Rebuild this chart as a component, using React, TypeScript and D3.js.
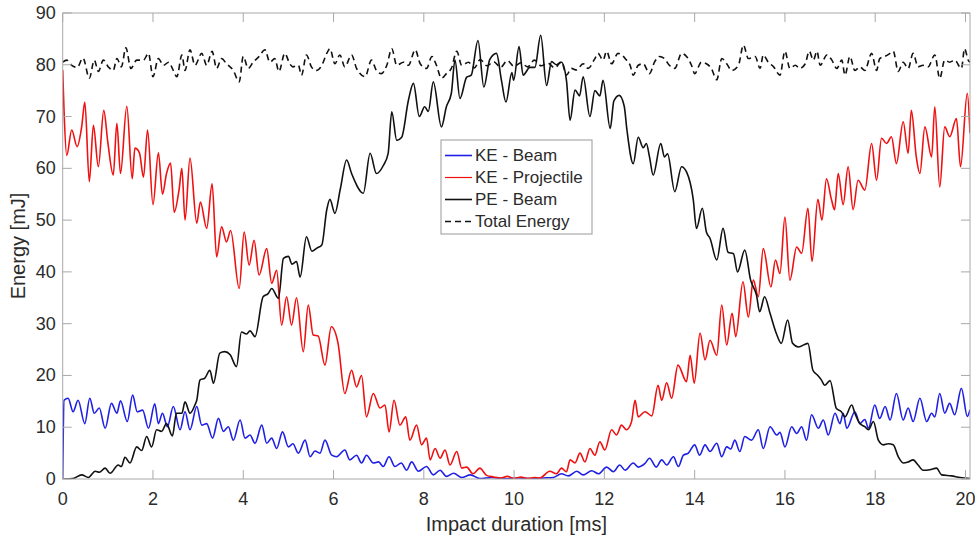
import React from "react";
import * as d3 from "d3";

const width = 975;
const height = 539;
const margin = { top: 13, right: 5, bottom: 60, left: 62.7 };

const xTicks = [0, 2, 4, 6, 8, 10, 12, 14, 16, 18, 20];
const yTicks = [0, 10, 20, 30, 40, 50, 60, 70, 80, 90];
const seriesNames = ["KE - Beam", "KE - Projectile", "PE - Beam", "Total Energy"];

const keBeam: [number, number][] = [
  [0, 0], [0.03, 15.2], [0.12, 15.6], [0.23, 13], [0.34, 15.2], [0.49, 10.7], [0.6, 15.6], [0.7, 12.7], [0.81, 13.7], [0.94, 9.8],
  [1.08, 14.6], [1.2, 12.7], [1.28, 15.1], [1.43, 11.1], [1.55, 16.2], [1.65, 13], [1.77, 13.3], [1.9, 9.8], [2.04, 14.5], [2.12, 10.7],
  [2.21, 12.7], [2.32, 10.1], [2.45, 14], [2.6, 9.5], [2.71, 13], [2.82, 9.5], [2.97, 14], [3.08, 10.4], [3.19, 10.7], [3.32, 7.9],
  [3.45, 11.7], [3.56, 9.2], [3.67, 10.1], [3.78, 7.5], [3.93, 11.4], [4.04, 7.9], [4.15, 8.5], [4.26, 6.9], [4.41, 10.4], [4.52, 6.9],
  [4.63, 7.9], [4.74, 5.9], [4.87, 9.1], [5.0, 6.2], [5.1, 6.8], [5.22, 5], [5.37, 7.5], [5.48, 4.3], [5.59, 5.4], [5.7, 5],
  [5.81, 7.5], [5.96, 4.6], [6.07, 4.3], [6.25, 5.6], [6.36, 3.7], [6.51, 4.6], [6.62, 3.1], [6.73, 4.6], [6.88, 3.1], [7.0, 3.3],
  [7.1, 2.4], [7.23, 4.3], [7.36, 2.4], [7.5, 3.1], [7.62, 1.7], [7.73, 3.3], [7.88, 1.5], [8.06, 2.4], [8.21, 0.8], [8.36, 1.7],
  [8.5, 0.5], [8.66, 1.1], [8.84, 0.3], [9.03, 0.8], [9.24, 0.1], [9.5, 0.3], [9.8, 0.05], [10.1, 0.2], [10.4, 0.05], [10.65, 0.2],
  [10.87, 0.3], [11.05, 1], [11.2, 0.6], [11.39, 1.5], [11.53, 0.8], [11.72, 1.6], [11.87, 1], [12.05, 2.3], [12.2, 1.4], [12.34, 2.7],
  [12.46, 1.7], [12.64, 3.1], [12.75, 2.3], [12.9, 3], [13.0, 4], [13.15, 2.3], [13.27, 3.7], [13.38, 2.7], [13.53, 4.3], [13.64, 2.4],
  [13.75, 4.6], [13.86, 5], [14.0, 6.6], [14.11, 4.6], [14.23, 6.6], [14.34, 5.3], [14.49, 6.9], [14.6, 4.3], [14.71, 6.2], [14.8, 5.8],
  [14.89, 7.5], [15.0, 5.3], [15.11, 8.2], [15.26, 7.5], [15.41, 9.5], [15.52, 5.9], [15.67, 10.1], [15.82, 8.5], [15.89, 9], [16.0, 6.2],
  [16.15, 10.1], [16.26, 8.8], [16.37, 10.1], [16.48, 7.5], [16.59, 12.4], [16.74, 9.8], [16.85, 11.4], [16.96, 8.5], [17.11, 12.7], [17.22, 10.7],
  [17.29, 12.7], [17.37, 9.8], [17.55, 13], [17.66, 10.7], [17.77, 11.5], [17.85, 9.8], [17.99, 14.3], [18.1, 11.7], [18.22, 14], [18.33, 11.4],
  [18.47, 16.5], [18.62, 11.4], [18.73, 13.7], [18.84, 11.1], [18.99, 15.6], [19.14, 11.1], [19.25, 12.7], [19.32, 12], [19.43, 16.5], [19.54, 12.7],
  [19.65, 14.6], [19.76, 12.4], [19.91, 17.5], [20.04, 12.1], [20.1, 13.4],
];

const keProjectile: [number, number][] = [
  [0, 79], [0.03, 71], [0.09, 62.5], [0.2, 67.4], [0.32, 64.2], [0.42, 68], [0.49, 72.8], [0.59, 57.4], [0.68, 68.3], [0.79, 60.3],
  [0.91, 71.2], [1.0, 65], [1.12, 58.7], [1.2, 68.7], [1.28, 59], [1.42, 72], [1.54, 58], [1.6, 63.9], [1.7, 63], [1.79, 58.3],
  [1.88, 67.4], [2.0, 53], [2.12, 63], [2.21, 55], [2.3, 59], [2.39, 61], [2.47, 51.5], [2.58, 56], [2.64, 60], [2.71, 50],
  [2.82, 62], [2.97, 49.4], [3.05, 53.5], [3.19, 48.4], [3.31, 57], [3.41, 42.9], [3.52, 48.7], [3.63, 45.8], [3.72, 48], [3.91, 36.8],
  [4.02, 47.7], [4.13, 41.3], [4.24, 46.1], [4.35, 39.4], [4.52, 44.5], [4.63, 37.8], [4.74, 40.3], [4.85, 29.7], [4.96, 35.2], [5.07, 29.7],
  [5.18, 35], [5.33, 24.6], [5.44, 33.6], [5.55, 27.8], [5.66, 27.6], [5.81, 22], [5.95, 29.4], [6.1, 26.2], [6.25, 16.5], [6.4, 21],
  [6.51, 17.8], [6.62, 20], [6.73, 12], [6.88, 16.5], [7.03, 13.7], [7.14, 14.3], [7.23, 9.1], [7.34, 15.2], [7.47, 10.4], [7.6, 12],
  [7.69, 7.5], [7.84, 10.4], [7.95, 6.6], [8.06, 7.9], [8.14, 3.7], [8.25, 5.9], [8.36, 4], [8.47, 5.6], [8.58, 2.7], [8.73, 5.3],
  [8.84, 2.1], [8.95, 2.3], [9.09, 1], [9.24, 2.1], [9.39, 0.7], [9.55, 0.4], [9.7, 0.2], [9.85, 0.5], [10.0, 0.1], [10.15, 0.4],
  [10.3, 0.1], [10.45, 0.3], [10.57, 0.2], [10.79, 1.5], [10.94, 1], [11.05, 2.1], [11.16, 1.4], [11.24, 3.7], [11.35, 3.1], [11.46, 5],
  [11.57, 3.3], [11.68, 5.9], [11.79, 4.6], [11.9, 7.2], [12.01, 5.6], [12.16, 9.5], [12.27, 8.5], [12.38, 10.4], [12.49, 9.5], [12.6, 11],
  [12.68, 15.2], [12.75, 12], [12.9, 13], [13.05, 12.2], [13.19, 18.1], [13.27, 15.2], [13.38, 18.6], [13.49, 15.6], [13.63, 22], [13.82, 18.8],
  [13.9, 23.9], [13.99, 18.5], [14.12, 28.2], [14.23, 23], [14.34, 26.8], [14.49, 23.9], [14.6, 33.6], [14.71, 25.9], [14.83, 32], [14.91, 27.5],
  [15.07, 38.1], [15.19, 31.3], [15.3, 38.4], [15.41, 35.2], [15.52, 44.5], [15.69, 37.1], [15.79, 42.3], [15.89, 39.7], [16.0, 50.6], [16.11, 38.4],
  [16.26, 44.8], [16.37, 43.6], [16.51, 52.3], [16.6, 42], [16.73, 54], [16.82, 50], [16.92, 58], [17.03, 54], [17.1, 52], [17.18, 59],
  [17.29, 53], [17.4, 60.3], [17.51, 52], [17.62, 57.7], [17.77, 55.8], [17.92, 64.8], [18.03, 57.7], [18.14, 65.8], [18.25, 64.8], [18.36, 66.1],
  [18.47, 60.9], [18.62, 69], [18.73, 62.9], [18.8, 71.2], [18.91, 62.2], [18.99, 59], [19.1, 68], [19.25, 62.2], [19.32, 71.9], [19.43, 56.4],
  [19.54, 68], [19.65, 66.1], [19.8, 69.6], [19.89, 60.3], [20.04, 74.5], [20.1, 66.8],
];

const peBeam: [number, number][] = [
  [0, 0], [0.23, 0.1], [0.42, 0.8], [0.57, 0.3], [0.72, 1.5], [0.81, 1.3], [0.94, 2.1], [1.05, 1.1], [1.23, 2.7], [1.3, 2.4],
  [1.38, 4.2], [1.49, 3.1], [1.64, 6.2], [1.75, 5.5], [1.86, 8.2], [1.97, 6.2], [2.08, 9.5], [2.19, 9.2], [2.3, 10.7], [2.43, 8.3],
  [2.52, 12.7], [2.64, 12.7], [2.71, 14.9], [2.82, 12.7], [2.93, 14.3], [2.97, 15.2], [3.04, 19.1], [3.15, 19.5], [3.26, 21], [3.34, 18.5],
  [3.48, 24.3], [3.59, 24.6], [3.71, 24], [3.85, 21.7], [3.96, 28.4], [4.07, 28], [4.15, 28.6], [4.26, 27.5], [4.44, 35.2], [4.55, 35.8],
  [4.63, 36.8], [4.78, 34.9], [4.89, 42.6], [5.0, 43], [5.08, 41.5], [5.18, 42], [5.26, 39], [5.4, 46.8], [5.52, 44], [5.63, 44.6],
  [5.74, 45.2], [5.85, 52], [5.92, 54], [6.03, 51.3], [6.15, 56], [6.29, 61.6], [6.4, 59], [6.66, 55.2], [6.81, 62.9], [6.95, 59],
  [7.1, 60.5], [7.21, 62.9], [7.29, 70.9], [7.4, 65.4], [7.51, 66], [7.66, 73.2], [7.77, 76.4], [7.9, 70], [8.02, 71.9], [8.1, 71],
  [8.21, 76.7], [8.39, 68], [8.5, 71.9], [8.61, 74.5], [8.69, 80.9], [8.8, 73.5], [8.95, 77.6], [9.05, 78], [9.2, 84.7], [9.33, 75.7],
  [9.46, 81], [9.61, 82.2], [9.72, 77], [9.82, 72.8], [9.95, 78.5], [9.99, 77], [10.11, 83.5], [10.2, 78], [10.35, 79.5], [10.46, 79.5],
  [10.59, 85.7], [10.72, 76], [10.83, 80.6], [10.94, 80], [11.05, 80.5], [11.16, 77], [11.24, 69.3], [11.35, 75.1], [11.45, 74], [11.53, 77.7],
  [11.68, 70], [11.79, 75], [11.9, 74], [11.97, 77], [12.13, 67.7], [12.21, 73], [12.33, 74.1], [12.44, 72], [12.5, 67.4], [12.64, 60.9],
  [12.75, 66], [12.86, 64], [12.93, 64.8], [13.0, 62.2], [13.08, 58.7], [13.25, 64.8], [13.33, 62.2], [13.4, 62.8], [13.56, 55.5], [13.71, 60.3],
  [13.82, 59.3], [13.97, 53.9], [14.04, 48.4], [14.17, 52.3], [14.26, 47.7], [14.34, 46.5], [14.49, 42.3], [14.63, 48.4], [14.74, 43.8], [14.86, 43.5],
  [14.95, 40], [15.11, 44.2], [15.24, 38.4], [15.37, 35.5], [15.44, 32.3], [15.55, 35.2], [15.67, 32], [15.81, 28.1], [15.92, 26.2], [16.06, 30.7],
  [16.17, 26.2], [16.3, 25.5], [16.51, 26.2], [16.62, 21], [16.73, 20], [16.81, 19.1], [16.88, 18.1], [17.0, 19], [17.14, 13.6], [17.25, 13],
  [17.33, 12], [17.48, 14.3], [17.55, 12.7], [17.66, 10.7], [17.77, 10.1], [17.85, 9.5], [17.96, 11.1], [18.07, 7.5], [18.18, 6.6], [18.29, 6.8],
  [18.4, 6.6], [18.51, 4.3], [18.62, 3.1], [18.73, 3.3], [18.84, 3.7], [18.95, 2.7], [19.06, 1.7], [19.21, 1.8], [19.36, 2.1], [19.47, 0.8],
  [19.69, 0.6], [19.88, 0.3], [20.1, 0.1],
];

const totalEnergy: [number, number][] = [
  [0, 80.5], [0.09, 80.9], [0.2, 79.9], [0.32, 79.5], [0.45, 81.3], [0.59, 77.4], [0.7, 80.9], [0.79, 78.7], [0.9, 80.9], [1.01, 79.6],
  [1.12, 78.9], [1.2, 81.2], [1.3, 79.6], [1.4, 83.3], [1.51, 79.3], [1.64, 80.9], [1.79, 80.9], [1.9, 82.2], [2.0, 77.7], [2.12, 81.2],
  [2.23, 79.9], [2.35, 80.5], [2.45, 78.9], [2.53, 77.7], [2.64, 81.9], [2.71, 78.9], [2.82, 82.9], [2.93, 79.9], [3.08, 82.2], [3.19, 79.9],
  [3.31, 82.6], [3.41, 79.3], [3.52, 81.2], [3.63, 80.2], [3.78, 78.9], [3.91, 76.7], [4.0, 81.6], [4.11, 79.3], [4.22, 80.5], [4.35, 81.6],
  [4.48, 82.9], [4.59, 80.5], [4.7, 81.2], [4.79, 78.7], [4.92, 82.2], [5.03, 80.2], [5.1, 79.6], [5.22, 79.9], [5.29, 78], [5.4, 81.9],
  [5.51, 79.6], [5.62, 78.9], [5.74, 79.9], [5.85, 82.2], [5.92, 83.1], [6.03, 80.2], [6.14, 81.9], [6.25, 79.6], [6.4, 81.9], [6.51, 79.3],
  [6.7, 77.7], [6.84, 80.9], [6.95, 78.9], [7.06, 78.3], [7.18, 79.9], [7.29, 83.1], [7.4, 79.9], [7.55, 80.5], [7.66, 79.9], [7.81, 82.9],
  [7.92, 80.2], [8.06, 79.3], [8.18, 81.6], [8.28, 79.9], [8.39, 77.4], [8.5, 78.3], [8.61, 79.3], [8.73, 82.6], [8.84, 79.9], [8.99, 80.5],
  [9.12, 79.4], [9.25, 81], [9.4, 79.8], [9.55, 80.6], [9.7, 79.5], [9.85, 80.8], [10.0, 79.7], [10.15, 80.4], [10.3, 79.6], [10.45, 80.9],
  [10.6, 79.8], [10.75, 80.3], [10.9, 79.4], [11.05, 80.6], [11.16, 78], [11.27, 79.3], [11.38, 79], [11.53, 80.2], [11.64, 79.3], [11.79, 81.2],
  [11.86, 82.2], [11.97, 80.9], [12.05, 82.6], [12.16, 80.2], [12.3, 82.2], [12.38, 82], [12.46, 81.2], [12.57, 79.9], [12.64, 78], [12.75, 79.9],
  [12.86, 80.2], [13.0, 78.3], [13.11, 80.5], [13.22, 81.6], [13.33, 81.2], [13.44, 79.9], [13.56, 79.3], [13.71, 82.2], [13.82, 81.6], [13.93, 79.9],
  [14.0, 78.3], [14.15, 80.5], [14.26, 80.2], [14.37, 79.3], [14.49, 77.1], [14.6, 81.2], [14.71, 80.2], [14.82, 78.9], [14.97, 79.9], [15.08, 83.8],
  [15.19, 81.2], [15.34, 81.6], [15.45, 79.3], [15.52, 81.9], [15.63, 80.5], [15.75, 79.6], [15.89, 78], [16.0, 82.6], [16.11, 79.3], [16.23, 79.9],
  [16.33, 79.3], [16.45, 80.2], [16.54, 82.6], [16.63, 80.9], [16.71, 82.6], [16.78, 79.9], [16.93, 81.9], [17.04, 80.9], [17.15, 79.3], [17.26, 80.9],
  [17.33, 78], [17.44, 81.6], [17.55, 78.9], [17.66, 79.6], [17.77, 78.9], [17.92, 82.2], [18.03, 78.9], [18.1, 81.2], [18.21, 81.6], [18.33, 82.2],
  [18.4, 82.6], [18.51, 78.7], [18.62, 80.5], [18.73, 79.3], [18.84, 82.2], [18.95, 79.6], [19.06, 79.9], [19.17, 79.6], [19.32, 81.9], [19.43, 77.4],
  [19.54, 80.9], [19.65, 80.5], [19.76, 80.9], [19.91, 79.3], [19.98, 83.1], [20.06, 80.9], [20.1, 80.5],
];

const seriesColors = ["#1f1fe6", "#f01010", "#111111", "#111111"];

const font = "'Liberation Sans', Arial, Helvetica, sans-serif";
const textColor = "#2b2b2b";
const axisColor = "#a8a8a8";

export default function App() {
  const x = d3.scaleLinear().domain([0, 20.1]).range([margin.left, width - margin.right]);
  const y = d3.scaleLinear().domain([0, 90]).range([height - margin.bottom, margin.top]);
  const [x0, x1] = x.range();
  const [y0, y1] = y.range();

  const line = d3
    .line<[number, number]>()
    .x((d) => x(d[0]))
    .y((d) => y(d[1]))
    .curve(d3.curveMonotoneX);

  const series = [keBeam, keProjectile, peBeam, totalEnergy];
  const tickLen = 9;

  // legend box
  const lg = { x: 441, y: 140, w: 151, h: 94, row: 22 };

  return (
    <svg
      width={width}
      height={height}
      style={{ position: "absolute", left: 0, top: 0, background: "#fff" }}
      fontFamily={font}
    >
      <defs>
        <clipPath id="plot">
          <rect x={x0} y={y1} width={x1 - x0} height={y0 - y1} />
        </clipPath>
      </defs>

      <g clipPath="url(#plot)">
        {series.map((s, i) => (
          <path
            key={seriesNames[i]}
            d={line(s) || ""}
            fill="none"
            stroke={seriesColors[i]}
            strokeWidth={1.6}
            strokeDasharray={i === 3 ? "6,4" : undefined}
            strokeLinejoin="round"
          />
        ))}
      </g>

      {/* box + inward ticks on all sides */}
      <rect x={x0} y={y1} width={x1 - x0} height={y0 - y1} fill="none" stroke={axisColor} strokeWidth={1} />
      {xTicks.map((t) => (
        <g key={"x" + t}>
          <line x1={x(t)} x2={x(t)} y1={y0} y2={y0 - tickLen} stroke={axisColor} />
          <line x1={x(t)} x2={x(t)} y1={y1} y2={y1 + tickLen} stroke={axisColor} />
          <text x={x(t)} y={505} textAnchor="middle" fontSize={18} fill={textColor}>
            {t}
          </text>
        </g>
      ))}
      {yTicks.map((t) => (
        <g key={"y" + t}>
          <line x1={x0} x2={x0 + tickLen} y1={y(t)} y2={y(t)} stroke={axisColor} />
          <line x1={x1} x2={x1 - tickLen} y1={y(t)} y2={y(t)} stroke={axisColor} />
          <text x={x0 - 7} y={y(t)} textAnchor="end" dominantBaseline="central" fontSize={18} fill={textColor}>
            {t}
          </text>
        </g>
      ))}

      <text x={(x0 + x1) / 2} y={531} textAnchor="middle" fontSize={20} fill={textColor}>
        Impact duration [ms]
      </text>
      <text
        transform={`translate(25, ${(y0 + y1) / 2}) rotate(-90)`}
        textAnchor="middle"
        fontSize={20}
        fill={textColor}
      >
        Energy [mJ]
      </text>

      <g>
        <rect x={lg.x} y={lg.y} width={lg.w} height={lg.h} fill="#fff" stroke="#999" strokeWidth={1} />
        {seriesNames.map((name, i) => {
          const cy = lg.y + 15.5 + i * lg.row;
          return (
            <g key={name}>
              <line
                x1={lg.x + 4}
                x2={lg.x + 31}
                y1={cy}
                y2={cy}
                stroke={seriesColors[i]}
                strokeWidth={i === 1 ? 1.2 : 1.6}
                strokeDasharray={i === 3 ? "6,4" : undefined}
              />
              <text x={lg.x + 34} y={cy} dominantBaseline="central" fontSize={17} fill={textColor}>
                {name}
              </text>
            </g>
          );
        })}
      </g>
    </svg>
  );
}
